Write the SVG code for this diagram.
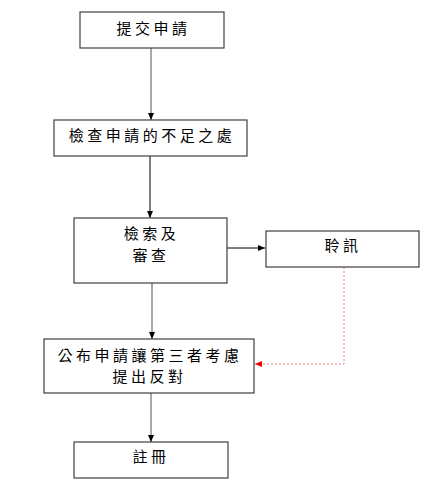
<svg xmlns="http://www.w3.org/2000/svg" width="445" height="499" viewBox="0 0 445 499">
<defs>
<marker id="ah" markerWidth="8" markerHeight="8" refX="7" refY="4" orient="auto" markerUnits="userSpaceOnUse"><path d="M0,1 L7,4 L0,7 Z" fill="#000"/></marker>
<marker id="ahr" markerWidth="8" markerHeight="8" refX="7" refY="4" orient="auto" markerUnits="userSpaceOnUse"><path d="M0,1 L7,4 L0,7 Z" fill="#e00"/></marker>
<style>
.box{fill:#fff;stroke:#404040;stroke-width:1.2}
.t{font-family:"Noto Sans CJK TC","Noto Sans CJK SC",sans-serif;font-size:15px;fill:#000;text-anchor:middle;letter-spacing:3.5px}
.c{fill:none;stroke:#707070;stroke-width:1.2}
.k{fill:none;stroke:#000;stroke-width:1}
.r{fill:none;stroke:#f08080;stroke-width:1;stroke-dasharray:2,2}
</style>
</defs>
<rect width="445" height="499" fill="#fff"/>
<g id="connectors">
<line class="c" x1="151" y1="48" x2="151" y2="120" marker-end="url(#ah)"/>
<line class="k" x1="150" y1="156" x2="150" y2="218" marker-end="url(#ah)"/>
<line class="k" x1="227" y1="248" x2="265" y2="248" marker-end="url(#ah)"/>
<line class="c" x1="152" y1="283" x2="152" y2="339" marker-end="url(#ah)"/>
<polyline class="r" points="344,267 344,364 255,364" marker-end="url(#ahr)"/>
<line class="c" x1="151" y1="393" x2="151" y2="442" marker-end="url(#ah)"/>
</g>
<g id="n1"><rect class="box" x="80" y="12" width="144" height="36"/><text class="t" x="153.5" y="34">提交申請</text></g>
<g id="n2"><rect class="box" x="54" y="120" width="193" height="36"/><text class="t" x="152" y="141">檢查申請的不足之處</text></g>
<g id="n3"><rect class="box" x="74" y="218" width="153" height="65"/><text class="t" x="151.5" y="239">檢索及</text><text class="t" x="151" y="261">審查</text></g>
<g id="n4"><rect class="box" x="266" y="231" width="153" height="36"/><text class="t" x="343" y="251">聆訊</text></g>
<g id="n5"><rect class="box" x="44" y="339" width="210" height="54"/><text class="t" x="150" y="361">公布申請讓第三者考慮</text><text class="t" x="149.5" y="382">提出反對</text></g>
<g id="n6"><rect class="box" x="74" y="442" width="154" height="36"/><text class="t" x="151" y="462">註冊</text></g>
</svg>
